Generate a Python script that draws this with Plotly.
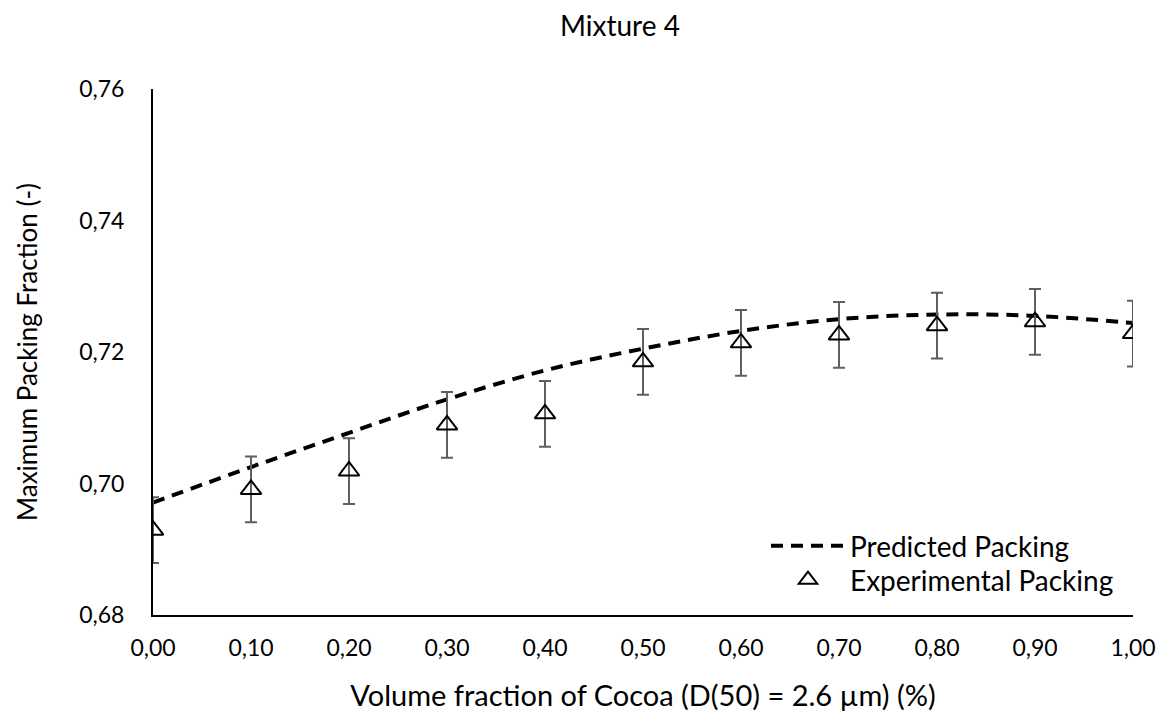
import plotly.graph_objects as go

volume_fraction = [0.0, 0.1, 0.2, 0.3, 0.4, 0.5, 0.6, 0.7, 0.8, 0.9, 1.0]
predicted_packing = [0.6971, 0.7025, 0.7077, 0.7128, 0.7172, 0.7205, 0.7232, 0.7250, 0.7257, 0.7255, 0.7244]
experimental_packing = [0.6929, 0.6991, 0.7019, 0.7089, 0.7106, 0.7185, 0.7214, 0.7226, 0.7240, 0.7246, 0.7228]
experimental_error = [0.005, 0.005, 0.005, 0.005, 0.005, 0.005, 0.005, 0.005, 0.005, 0.005, 0.005]

x_tickvals = [0.0, 0.1, 0.2, 0.3, 0.4, 0.5, 0.6, 0.7, 0.8, 0.9, 1.0]
x_ticktext = ["0,00", "0,10", "0,20", "0,30", "0,40", "0,50", "0,60", "0,70", "0,80", "0,90", "1,00"]
y_tickvals = [0.68, 0.70, 0.72, 0.74, 0.76]
y_ticktext = ["0,68", "0,70", "0,72", "0,74", "0,76"]

FONT = "Lato, Open Sans, sans-serif"

fig = go.Figure()
fig.add_trace(go.Scatter(
    x=volume_fraction, y=predicted_packing, mode="lines", name="Predicted Packing",
    line=dict(color="black", width=4, dash="12px,8px", shape="spline"),
    legend="legend",
))
fig.add_trace(go.Scatter(
    x=volume_fraction, y=experimental_packing, mode="markers", name="Experimental Packing",
    marker=dict(symbol="triangle-up-open", size=18, color="black", line=dict(width=2, color="black")),
    error_y=dict(type="data", array=experimental_error, visible=True, color="#5f5f5f", thickness=2, width=6),
    legend="legend2",
))

legend_common = dict(xanchor="left", yanchor="middle", bgcolor="rgba(0,0,0,0)",
                     font=dict(size=28, family=FONT, color="black"), itemwidth=74)

fig.update_layout(
    width=1169, height=728,
    paper_bgcolor="white", plot_bgcolor="white",
    margin=dict(l=145, r=44, t=81, b=121),
    font=dict(family=FONT, size=23, color="black"),
    title=dict(text="Mixture 4", x=0.5235, xref="container", y=0.9753, yref="container",
               xanchor="center", yanchor="middle", font=dict(size=28, family=FONT, color="black")),
    showlegend=True,
    legend=dict(x=0.6255, y=0.1312, **legend_common),
    legend2=dict(x=0.6255, y=0.0665, **legend_common),
    xaxis=dict(range=[0, 1], tickvals=x_tickvals, ticktext=x_ticktext, showgrid=False, zeroline=False,
               showline=True, linecolor="black", linewidth=2, ticks="", ticklabelstandoff=11,
               title=dict(text="Volume fraction of Cocoa (D(50) = 2.6 µm) (%)", standoff=26,
                          font=dict(size=29, family=FONT, color="black")),
               tickfont=dict(size=23, family=FONT, color="black")),
    yaxis=dict(range=[0.68, 0.76], tickvals=y_tickvals, ticktext=y_ticktext, showgrid=False, zeroline=False,
               showline=True, linecolor="black", linewidth=2, ticks="", ticklabelstandoff=22,
               title=dict(text="Maximum Packing Fraction (-)", standoff=34,
                          font=dict(size=26, family=FONT, color="black")),
               tickfont=dict(size=23, family=FONT, color="black")),
)

fig.write_html("out.html")
